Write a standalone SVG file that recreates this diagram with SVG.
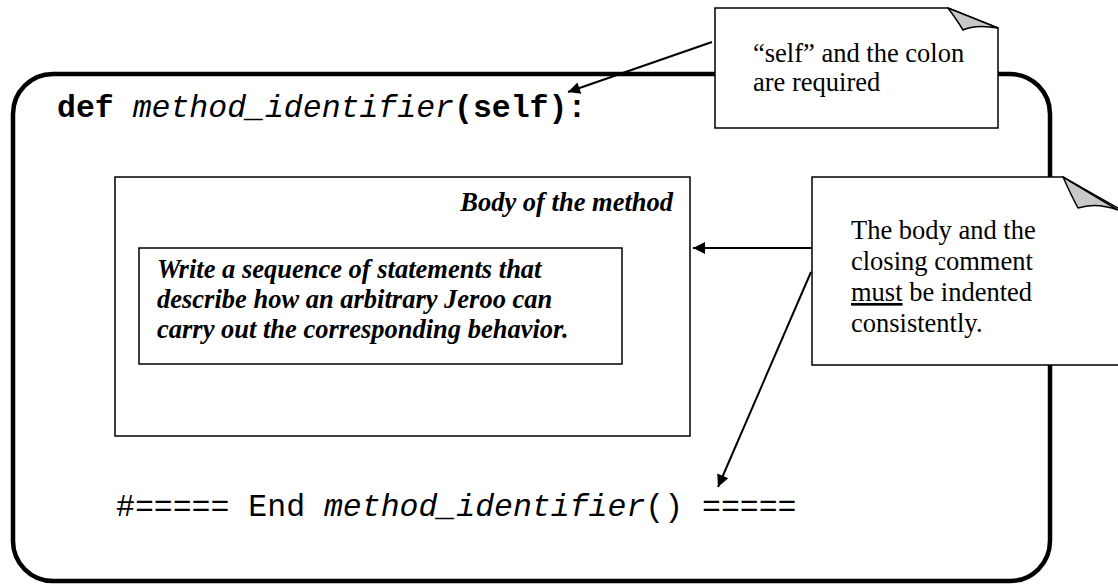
<svg xmlns="http://www.w3.org/2000/svg" width="1118" height="586" viewBox="0 0 1118 586">
<defs>
<style>
.serif{font-family:"Liberation Serif","Times New Roman",serif;font-size:26.5px;fill:#000}
.bi{font-weight:bold;font-style:italic}
.mono{font-family:"Liberation Mono","Courier New",monospace;font-size:31.5px;fill:#000}
.box{fill:#fff;stroke:#000;stroke-width:1.5}
.flap{fill:#c8c8c8;stroke:#000;stroke-width:1.5;stroke-linejoin:round}
.conn{stroke:#000;stroke-width:2;fill:none}
</style>
<marker id="ah" viewBox="0 0 10 10" refX="10" refY="5" markerWidth="8" markerHeight="6" markerUnits="strokeWidth" orient="auto">
<path d="M0,0 L10,5 L0,10 Z" fill="#000"/>
</marker>
</defs>
<rect width="1118" height="586" fill="#fff"/>
<g id="method-frame">
<path d="M53,74 H1010 A40,40 0 0 1 1050,114 V541 A40,40 0 0 1 1010,581 H53 A40,40 0 0 1 13,541 V114 A40,40 0 0 1 53,74 Z" fill="none" stroke="#000" stroke-width="4.5"/>
<text class="mono" x="57" y="117"><tspan font-weight="bold">def</tspan> <tspan font-style="italic">method_identifier</tspan><tspan font-weight="bold">(self):</tspan></text>
<text class="mono" x="116" y="516">#===== End <tspan font-style="italic">method_identifier</tspan>() =====</text>
</g>
<g id="body">
<rect class="box" x="115" y="177" width="575" height="259"/>
<text class="serif bi" x="673" y="211" text-anchor="end">Body of the method</text>
</g>
<g id="statements">
<rect class="box" x="139" y="248" width="483" height="116"/>
<text class="serif bi" x="157" y="278">Write a sequence of statements that</text>
<text class="serif bi" x="157" y="308">describe how an arbitrary Jeroo can</text>
<text class="serif bi" x="157" y="338">carry out the corresponding behavior.</text>
</g>
<g id="callout-self">
<path class="box" d="M715,8 H948 L998,28 V128 H715 Z"/>
<path class="flap" d="M948,8 Q957,20 963,30 Q975,24 998,28 Z"/>
<text class="serif" x="753" y="62">“self” and the colon</text>
<text class="serif" x="753" y="91">are required</text>
</g>
<g id="callout-indent">
<path class="box" d="M812,177 H1063 L1125,212 V365 H812 Z"/>
<path class="flap" d="M1063,177 Q1071,195 1078,208 Q1096,202 1118,210 Z"/>
<text class="serif" x="851" y="239">The body and the</text>
<text class="serif" x="851" y="270">closing comment</text>
<text class="serif" x="851" y="301"><tspan text-decoration="underline">must</tspan> be indented</text>
<text class="serif" x="851" y="332">consistently.</text>
</g>
<g id="connectors">
<line class="conn" x1="712" y1="42" x2="568" y2="92" marker-end="url(#ah)"/>
<line class="conn" x1="812" y1="248" x2="693" y2="248" marker-end="url(#ah)"/>
<line class="conn" x1="811" y1="272" x2="718" y2="487" marker-end="url(#ah)"/>
</g>
</svg>
